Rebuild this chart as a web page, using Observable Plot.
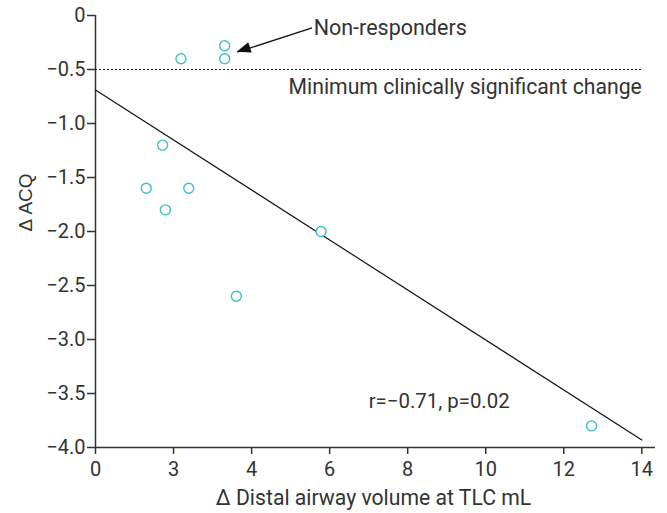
<!DOCTYPE html>
<html><head><meta charset="utf-8">
<script src="https://cdn.jsdelivr.net/npm/d3@7"></script>
<script src="https://cdn.jsdelivr.net/npm/@observablehq/plot@0.6"></script>
<style>body{margin:0;background:#fff}</style>
</head><body><div id="chart"></div>
<script>
// Data
const distalVolume = [2.19, 3.31, 3.31, 1.72, 1.30, 2.39, 1.79, 5.78, 3.61, 12.71];
const deltaACQ     = [-0.40, -0.28, -0.40, -1.20, -1.60, -1.60, -1.80, -2.00, -2.60, -3.80];

// Regression line end points (as drawn)
const fitX = [0, 14];
const fitY = [-0.69, -3.93];

// Minimum clinically significant change
const mcidValue = -0.5;
const mcidExtent = [0, 14];

// Ticks
const xTicks = [0, 2, 4, 6, 8, 10, 12, 14];
const xTickLabels = ["0", "3", "4", "6", "8", "10", "12", "14"];
const yTicks = [0, -0.5, -1, -1.5, -2, -2.5, -3, -3.5, -4];
const yTickLabels = ["0", "\u22120.5", "\u22121.0", "\u22121.5", "\u22122.0", "\u22122.5", "\u22123.0", "\u22123.5", "\u22124.0"];

// Labels & annotations
const xLabel = "\u0394 Distal airway volume at TLC mL";
const yLabel = "\u0394 ACQ";
const nonResponderLabel = ["Non-responders"];
const nonResponderPos = [5.59, -0.12];
const mcidLabel = ["Minimum clinically significant change"];
const mcidLabelPos = [14, -0.665];
const statLabel = ["r=\u22120.71, p=0.02"];
const statLabelPos = [7.0, -3.57];
const arrowFrom = [5.55, -0.114];
const arrowTo = [3.63, -0.34];

const points = distalVolume.map((x, i) => ({x, y: deltaACQ[i]}));
const fit = fitX.map((x, i) => ({x, y: fitY[i]}));

function arrowHead(index, scales) {
  const x1 = scales.x(arrowFrom[0]), y1 = scales.y(arrowFrom[1]);
  const x2 = scales.x(arrowTo[0]), y2 = scales.y(arrowTo[1]);
  const a = Math.atan2(y2 - y1, x2 - x1);
  const L = 14, W = 5.5;
  const bx = x2 - L * Math.cos(a), by = y2 - L * Math.sin(a);
  const px = -Math.sin(a) * W, py = Math.cos(a) * W;
  return d3.create("svg:path")
    .attr("d", `M${x2},${y2}L${bx + px},${by + py}L${bx - px},${by - py}Z`)
    .attr("fill", "#111").node();
}

const axisColor = "#333";
const chart = Plot.plot({
  width: 667, height: 513,
  marginLeft: 95, marginRight: 12, marginTop: 15, marginBottom: 66,
  style: {fontFamily: "Roboto, sans-serif", fontSize: "20px", color: "#333", background: "#fff"},
  x: {domain: [0, 14.35]},
  y: {domain: [-4, 0]},
  marks: [
    Plot.axisX({ticks: xTicks, tickFormat: d => xTickLabels[xTicks.indexOf(d)], tickSize: 7, tickPadding: 7, label: null, stroke: axisColor, strokeWidth: 1.5, fill: "#333", fontSize: 20}),
    Plot.axisY({ticks: yTicks, tickFormat: d => yTickLabels[yTicks.indexOf(d)], tickSize: 8, tickPadding: 2, label: null, stroke: axisColor, strokeWidth: 1.5, fill: "#333", fontSize: 20}),
    Plot.ruleX([0], {stroke: axisColor, strokeWidth: 1.5}),
    Plot.ruleY([-4], {stroke: axisColor, strokeWidth: 1.5}),
    Plot.ruleY([mcidValue], {x1: mcidExtent[0], x2: mcidExtent[1], stroke: "#222", strokeWidth: 1.2, strokeDasharray: "2,2"}),
    Plot.line(fit, {x: "x", y: "y", stroke: "#111", strokeWidth: 1.2}),
    Plot.dot(points, {x: "x", y: "y", r: 5, stroke: "#40bfc5", strokeWidth: 1.4, fill: "white"}),
    Plot.link([0], {x1: arrowFrom[0], y1: arrowFrom[1], x2: arrowTo[0], y2: arrowTo[1], stroke: "#111", strokeWidth: 1.3}),
    arrowHead,
    Plot.text(nonResponderLabel, {x: nonResponderPos[0], y: nonResponderPos[1], text: d => d, textAnchor: "start", lineAnchor: "middle", fill: "#333", fontSize: 21.5}),
    Plot.text(mcidLabel, {x: mcidLabelPos[0], y: mcidLabelPos[1], text: d => d, textAnchor: "end", lineAnchor: "middle", fill: "#333", fontSize: 21.2}),
    Plot.text(statLabel, {x: statLabelPos[0], y: statLabelPos[1], text: d => d, textAnchor: "start", lineAnchor: "middle", fill: "#333", fontSize: 20.4}),
    Plot.text([xLabel], {frameAnchor: "bottom", text: d => d, dy: 51, dx: -2, lineAnchor: "middle", fill: "#333", fontSize: 21.2}),
    Plot.text([yLabel], {frameAnchor: "left", text: d => d, rotate: -90, dx: -70, lineAnchor: "middle", fill: "#333", fontSize: 19, fontFamily: "Liberation Sans, Arial, sans-serif"})
  ]
});
document.getElementById("chart").appendChild(chart);
</script>
</body></html>
